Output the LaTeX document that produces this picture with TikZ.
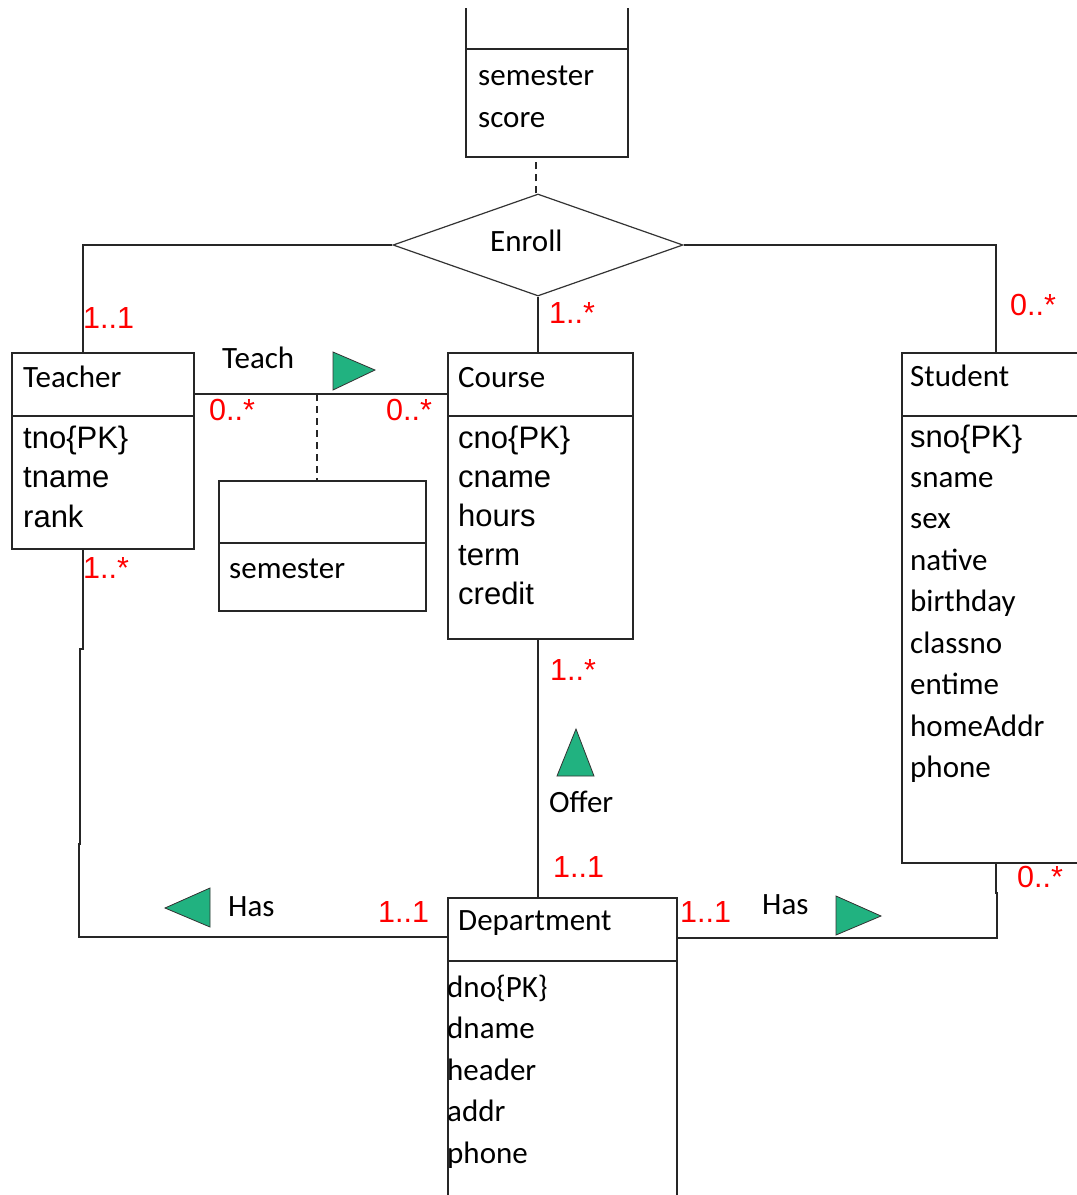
\documentclass[tikz,border=0pt]{standalone}
\usepackage{fontspec}
\setmainfont{Carlito}
\newfontfamily\arialfont{Liberation Sans}
\usetikzlibrary{shapes.geometric,positioning}
\definecolor{flaggreen}{RGB}{33,178,128}
\tikzset{
  classbox/.style={draw=black!85, line width=1.8pt, anchor=north west, inner sep=0pt},
  classline/.style={draw=black!85, line width=1.8pt},
  link/.style={draw=black!85, line width=1.7pt},
  assoc/.style={draw=black!85, line width=1.6pt, dash pattern=on 7pt off 5pt},
  title/.style={anchor=base west, inner sep=0pt, font=\fontsize{31}{31}\selectfont},
  attr/.style={anchor=base west, inner sep=0pt, font=\arialfont\fontsize{31}{31}\selectfont},
  mult/.style={anchor=base west, inner sep=0pt, text=red, font=\arialfont\fontsize{30.5}{30.5}\selectfont},
  flag/.style={draw=black!80, line width=0.8pt, fill=flaggreen, line join=miter}
}
\begin{document}
\begin{tikzpicture}[x=1pt,y=-1pt]
   \useasboundingbox (0,0) rectangle (1077,1195);
   \clip (0,8) rectangle (1077,1195);

   % Klassen
   \node[classbox, minimum width=162, minimum height=176] (enrollbox) at (465,-20) {};
   \node[classbox, minimum width=182, minimum height=196] (teacher) at (11,352) {};
   \node[classbox, minimum width=185, minimum height=286] (course) at (447,352) {};
   \node[classbox, minimum width=200, minimum height=510] (student) at (901,352) {};
   \node[classbox, minimum width=207, minimum height=130] (linkbox) at (218,480) {};
   \node[classbox, minimum width=229, minimum height=400] (dept) at (447,897) {};
   \foreach \b/\d in {enrollbox/69, teacher/64, course/64, student/64, linkbox/63, dept/64}
     \draw[classline] ([yshift=-\d pt]\b.north west) -- ([yshift=-\d pt]\b.north east);

   \node[draw=black!80, line width=1.2pt, diamond, minimum width=290, minimum height=102, inner sep=0pt] (enroll) at (538,245) {};

   % Texte
   \node[title] (enrollname) at (490,251) {Enroll};
   \node[title] (enrollsem) at (478,85) {semester};
   \node[title] (enrollscore) at (478,127) {score};
   \node[title] (teachername) at (23,387) {Teacher};
   \node[title] (coursename) at (458,387) {Course};
   \node[title] (studentname) at (910,386) {Student};
   \node[title] (deptname) at (458,930) {Department};
   \node[title] (linksem) at (229,578) {semester};
   \node[title] (teachname) at (222,368) {Teach};
   \node[title] (offername) at (549,812) {Offer};
   \node[title] (hasleft) at (228,916) {Has};
   \node[title] (hasright) at (762,914) {Has};

   \foreach \t [count=\i] in {tno\{PK\}, tname, rank}
     \node[attr] (teacher-\i) at (23,{448+39.5*(\i-1)}) {\t};
   \foreach \t [count=\i] in {cno\{PK\}, cname, hours, term, credit}
     \node[attr] (course-\i) at (458,{448+39*(\i-1)}) {\t};
   \node[attr] (student-0) at (910,447) {sno\{PK\}};
   \foreach \t [count=\i] in {sname, sex, native, birthday, classno, entime, homeAddr, phone}
     \node[title] (student-\i) at (910,{487+41.5*(\i-1)}) {\t};
   \foreach \t [count=\i] in {dno\{PK\}, dname, header, addr, phone}
     \node[title] (dept-\i) at (447,{997+41.5*(\i-1)}) {\t};

   % Multiplizitaeten
   \node[mult] (m1) at (83,328) {1..1};
   \node[mult] (m2) at (549,323) {1..*};
   \node[mult] (m3) at (1010,315) {0..*};
   \node[mult] (m4) at (209,420) {0..*};
   \node[mult] (m5) at (386,420) {0..*};
   \node[mult] (m6) at (83,578) {1..*};
   \node[mult] (m7) at (550,680) {1..*};
   \node[mult] (m8) at (553,877) {1..1};
   \node[mult] (m9) at (378,922) {1..1};
   \node[mult] (m10) at (680,922) {1..1};
   \node[mult] (m11) at (1017,887) {0..*};

   % Verbindungen
   \draw[link] (enroll.west) -| ([xshift=72pt]teacher.north west);
   \draw[link] (enroll.east) -| ([xshift=95pt]student.north west);
   \draw[link] (enroll.south) -- (enroll.south |- course.north);
   \draw[assoc] ([xshift=-2pt]enroll.north) -- ([xshift=-2pt]enroll.north |- enrollbox.south);
   \draw[link] ([yshift=-42pt]teacher.north east) -- ([yshift=-42pt]course.north west);
   \coordinate (teachmid) at (317,394);
   \draw[assoc] (teachmid) -- (teachmid |- linkbox.north);
   \draw[link] (course.south -| enroll.south) -- (enroll.south |- dept.north);
   \draw[link] ([xshift=72pt]teacher.south west) -- ++(0,99) -- ++(-3,0) -- ++(0,195) -- ++(-1,0)
      |- ([yshift=-40pt]dept.north west);
   \draw[link] ([yshift=-41pt]dept.north east) -| ([xshift=96pt,yshift=-29pt]student.south west)
      -- ++(-1,0) -- ([xshift=95pt]student.south west);

   % Richtungspfeile
   \draw[flag] (333,352) -- (375,370) -- (333,390) -- cycle;
   \draw[flag] (576,729) -- (594,776) -- (557,776) -- cycle;
   \draw[flag] (210,888) -- (165,908) -- (210,927) -- cycle;
   \draw[flag] (836,896) -- (881,916) -- (836,935) -- cycle;
\end{tikzpicture}
\end{document}
